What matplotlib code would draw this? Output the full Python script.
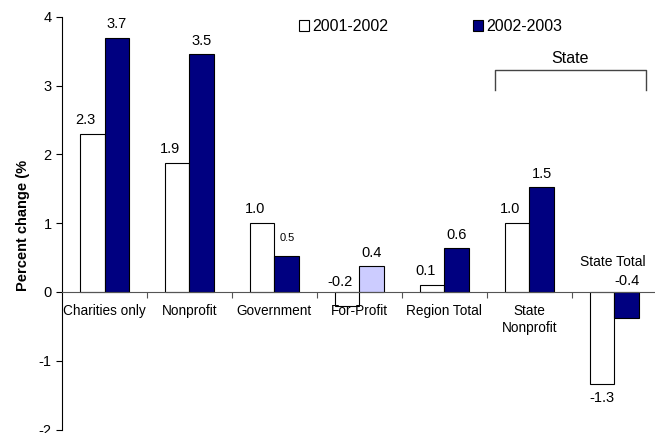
import matplotlib.pyplot as plt
import numpy as np

plt.rcParams['font.family'] = ['Liberation Sans', 'DejaVu Sans']
plt.rcParams['axes.unicode_minus'] = False

# Datos del grafico
categorias = ['Charities only', 'Nonprofit', 'Government', 'For-Profit',
              'Region Total', 'State\nNonprofit', 'State Total']
serie_2001 = [2.3, 1.87, 1.0, -0.2, 0.1, 1.0, -1.34]
serie_2002 = [3.7, 3.46, 0.52, 0.38, 0.64, 1.52, -0.38]
etiquetas_2001 = ['2.3', '1.9', '1.0', '-0.2', '0.1', '1.0', '-1.3']
etiquetas_2002 = ['3.7', '3.5', '0.5', '0.4', '0.6', '1.5', '-0.4']
nombres_series = ['2001-2002', '2002-2003']

azul = '#000080'
azul_claro = '#CCCCFF'

fig = plt.figure(figsize=(6.55, 4.33), dpi=100)
ax = fig.add_axes([0.0947, 0.008, 0.908, 0.953])

x = np.arange(len(categorias))
w = 0.29
colores_2002 = [azul] * len(categorias)
colores_2002[3] = azul_claro

ax.bar(x - w / 2, serie_2001, w, color='white', edgecolor='black', linewidth=0.8,
       label=nombres_series[0])
ax.bar(x + w / 2, serie_2002, w, color=colores_2002, edgecolor='black', linewidth=0.8,
       label=nombres_series[1])

ax.set_xlim(-0.5, 6.5)
ax.set_ylim(-2, 4)

# Ejes
ax.spines['top'].set_visible(False)
ax.spines['right'].set_visible(False)
ax.spines['bottom'].set_position(('data', 0))
ax.spines['bottom'].set_color('#555555')
ax.set_xticks(np.arange(0.5, 6.5, 1))
ax.set_xticklabels([])
ax.tick_params(axis='x', direction='out', length=4, color='#555555')
ax.set_yticks([-2, -1, 0, 1, 2, 3, 4])
ax.tick_params(axis='y', direction='out', length=4, labelsize=10.5)

# Etiquetas de categorias
for i, c in enumerate(categorias[:-1]):
    ax.annotate(c, (i, 0), xytext=(0, -9), textcoords='offset points',
                ha='center', va='top', fontsize=9.8, linespacing=1.2)
ax.annotate(categorias[-1], (6 - 0.02, 0), xytext=(0, 21.5), textcoords='offset points',
            ha='center', va='center', fontsize=10)

# Etiquetas de valores
fs = 10.5
for i in range(len(categorias)):
    v1, v2 = serie_2001[i], serie_2002[i]
    if i == 3:
        ax.annotate(etiquetas_2001[i], (i - w / 2 - 0.08, 0), xytext=(0, 7), textcoords='offset points',
                    ha='center', va='center', fontsize=fs)
    elif v1 >= 0:
        ax.annotate(etiquetas_2001[i], (i - w / 2 - 0.08, v1), xytext=(0, 10), textcoords='offset points',
                    ha='center', va='center', fontsize=fs)
    else:
        ax.annotate(etiquetas_2001[i], (i - w / 2, v1), xytext=(0, -10), textcoords='offset points',
                    ha='center', va='center', fontsize=fs)
    if i == 2:
        ax.annotate(etiquetas_2002[i], (i + w / 2, v2), xytext=(0, 13), textcoords='offset points',
                    ha='center', va='center', fontsize=8)
    elif v2 >= 0:
        ax.annotate(etiquetas_2002[i], (i + w / 2, v2), xytext=(0, 9.5), textcoords='offset points',
                    ha='center', va='center', fontsize=fs)
    else:
        ax.annotate(etiquetas_2002[i], (i + w / 2, 0), xytext=(0, 8), textcoords='offset points',
                    ha='center', va='center', fontsize=fs)

# Corchete "State"
ax.plot([4.594, 4.594, 6.37, 6.37], [2.94, 3.23, 3.23, 2.94], color='#444444', lw=1)
ax.text(5.48, 3.40, 'State', ha='center', va='center', fontsize=11.5)

fig.text(23 / 655, 1 - 225 / 433, 'Percent change (%', rotation=90, ha='center', va='center',
         fontsize=10.5, fontweight='bold')

ax.legend(loc='center left', bbox_to_anchor=(0.398, 0.976), ncol=2, frameon=False,
          fontsize=11.5, handlelength=0.65, handleheight=0.65, handletextpad=0.2,
          columnspacing=5.3, borderaxespad=0, borderpad=0)

fig.savefig('out.png', dpi=100)
